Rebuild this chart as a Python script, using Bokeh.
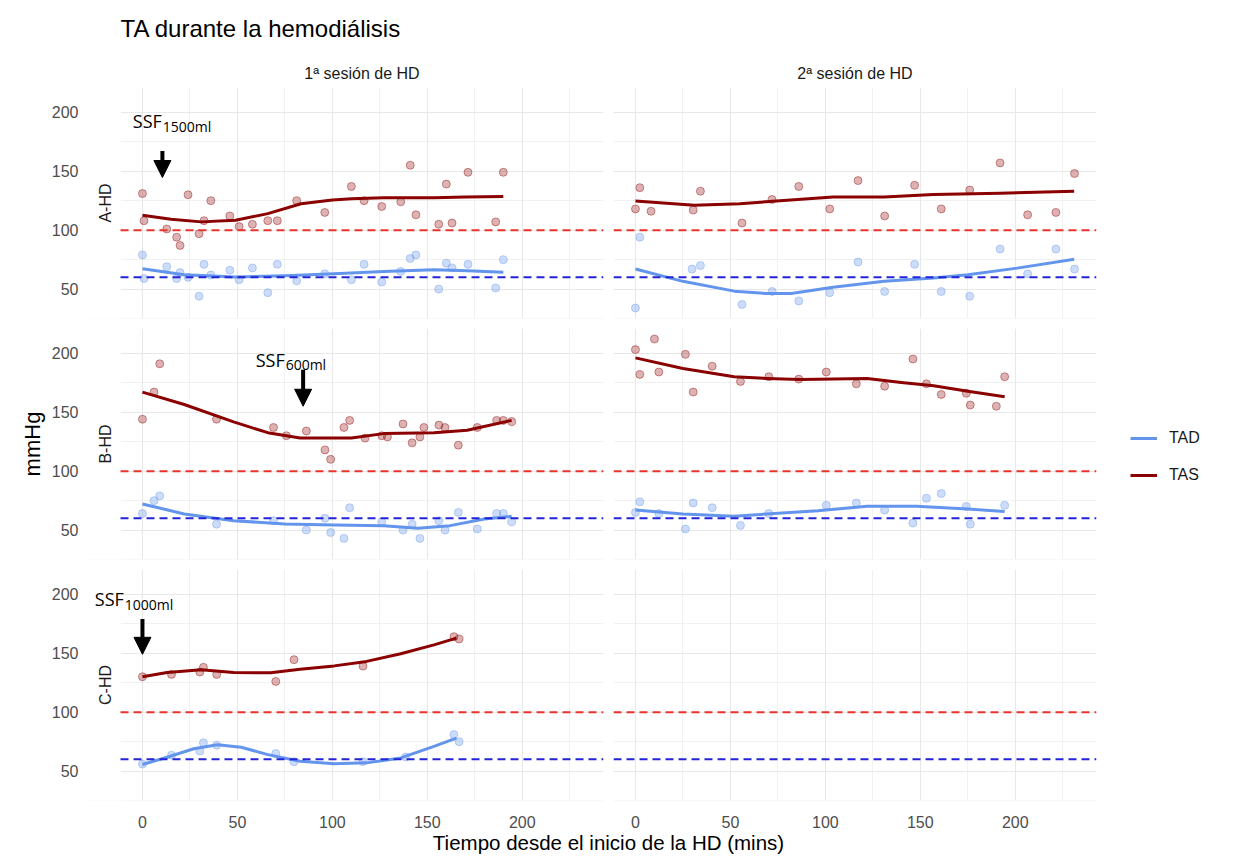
import math
from bokeh.plotting import figure
from bokeh.layouts import column, row
from bokeh.models import (Range1d, FixedTicker, Label, Arrow, NormalHead,
                          Legend, LegendItem, BoxAnnotation)
from bokeh.core.properties import value
from bokeh.embed import file_html
from bokeh.resources import INLINE

# ---------------- data ----------------
title_text = "TA durante la hemodiálisis"
col_labels = ["1ª sesión de HD", "2ª sesión de HD"]
row_labels = ["A-HD", "B-HD", "C-HD"]
x_title = "Tiempo desde el inicio de la HD (mins)"
y_title = "mmHg"
x_ticks = [0, 50, 100, 150, 200]
y_ticks = [50, 100, 150, 200]
ref_tas = 100
ref_tad = 60

# A-HD, session 1
a1_t_tas = [0, 0.8, 12.8, 18, 19.8, 24, 29.8, 32.4, 36, 46, 50.9, 57.9, 66, 71, 81.2, 96, 110,
            116.7, 126, 136, 141, 144, 156, 160, 163, 171.4, 186, 190]
a1_tas = [131, 108, 101, 94, 87, 130, 97, 108, 125, 112, 103, 105, 108, 108, 125, 115, 137,
          125, 120, 124, 155, 113, 105, 139, 106, 149, 107, 149]
a1_t_tad = a1_t_tas
a1_tad = [79, 59, 69, 59, 64, 60, 44, 71, 62, 66, 58, 68, 47, 71, 57, 63, 58,
          71, 56, 65, 76, 79, 50, 72, 68, 71, 51, 75]
a1_s_t_tas = [0, 15, 31, 49, 66, 83.5, 100, 110, 127, 153.5, 170, 190]
a1_s_tas = [112.6, 109.2, 107, 108.4, 114, 122.4, 125.5, 126.6, 127.4, 127.4, 128, 128.5]
a1_s_t_tad = [0, 22, 49, 75, 101, 127, 153.5, 171, 190]
a1_s_tad = [67.3, 62.2, 60.3, 61.4, 63, 65, 66.4, 65.6, 64.2]

# A-HD, session 2
a2_t_tas = [0, 2.3, 8.2, 30.4, 34.2, 56.1, 71.9, 86, 102.3, 117.2, 131.2, 147, 161, 176, 192,
            206.5, 221.4, 231.2]
a2_tas = [118, 136, 116, 117, 133, 106, 126, 137, 118, 142, 112, 138, 118, 134, 157, 113, 115, 148]
a2_t_tad = [0, 2.3, 29.8, 34.2, 56.1, 72, 86, 102.3, 117.2, 131.2, 147, 161, 176, 192, 206.5,
            221.4, 231.2]
a2_tad = [34, 94, 67, 70, 37, 48, 40, 47, 73, 48, 71, 48, 44, 84, 63, 84, 67]
a2_s_t_tas = [0, 31, 55, 78, 104, 131, 157, 192, 231]
a2_s_tas = [124.6, 121, 122.4, 125.2, 128, 128, 130.2, 131.3, 133]
a2_s_t_tad = [0, 25, 52, 69, 82, 104, 131, 157, 175, 201, 231]
a2_s_tad = [67, 56.6, 48.3, 46.3, 46.3, 51.6, 56.6, 59.4, 62.2, 67.8, 75.4]

# B-HD, session 1
b1_t_tas = [0, 6.1, 9.1, 39, 69, 75.8, 86.3, 96.1, 99.1, 106.1, 109.1, 117.2, 126, 129, 137.2,
            142, 146.1, 148.2, 156.1, 159.3, 166.3, 176.3, 186.5, 190, 194.4]
b1_tas = [144, 167, 191, 144, 137, 130, 134, 118, 110, 137, 143, 128, 130, 129, 140,
          124, 129, 137, 139, 137, 122, 137, 143, 143, 142]
b1_t_tad = [0, 6.1, 9.1, 39, 69, 86.3, 96.1, 99.1, 106.1, 109.1, 126, 137.2, 142, 146.1, 156.1,
            159.3, 166.3, 176.3, 186.5, 190, 194.4]
b1_tad = [64, 75, 79, 55, 58, 50, 60, 48, 43, 69, 57, 50, 55, 43, 58, 50, 65, 51, 64, 64, 57]
b1_s_t_tas = [0, 22, 48, 66, 83, 110, 127, 153.5, 171, 194.4]
b1_s_tas = [167, 156.5, 141.7, 132.6, 128.1, 128.1, 131.8, 132.6, 134.6, 143]
b1_s_t_tad = [0, 22, 48, 75, 101, 127, 145, 162, 180, 194.4]
b1_s_tad = [72.2, 63.7, 58, 55.2, 54.3, 53.8, 51.5, 53.8, 59.4, 61.7]

# B-HD, session 2
b2_t_tas = [0, 2.3, 10, 12.3, 26.3, 30.4, 40.4, 55.3, 70.2, 86, 100.5, 116.3, 131.2, 146.1,
            153.2, 161, 174.2, 176.3, 190, 194.4]
b2_tas = [203, 182, 212, 184, 199, 167, 189, 176, 180, 178, 184, 174, 172, 195,
          174, 165, 166, 156, 155, 180]
b2_t_tad = [0, 2.3, 12.3, 26.3, 30.4, 40.4, 55.3, 70.2, 100.5, 116.3, 131.2, 146.1, 153.2, 161,
            174.2, 176.3, 194.4]
b2_tad = [65, 74, 64, 51, 73, 69, 54, 64, 71, 73, 67, 56, 77, 81, 70, 55, 71]
b2_s_t_tas = [0, 25, 52, 69, 87, 122, 140, 157, 175, 194.4]
b2_s_tas = [196, 187, 180, 178.6, 177.7, 178.6, 175.2, 172.3, 167.8, 163]
b2_s_t_tad = [0, 25, 52, 69, 96, 122, 148, 175, 194.4]
b2_s_tad = [67, 63.7, 61.7, 63.7, 66.5, 70.2, 70.2, 67.9, 65.7]

# C-HD, session 1
c1_t_tas = [0, 15.3, 30.2, 32.1, 39.1, 70.2, 79.8, 116.1, 164, 166.7]
c1_tas = [130, 132, 134, 138, 132, 126, 144.5, 139, 164, 162]
c1_t_tad = [0, 15.3, 30.2, 32.1, 39.1, 70.2, 79.8, 116.1, 138.6, 164, 166.7]
c1_tad = [56, 63.5, 67, 74, 72, 65, 58, 58, 62, 81, 75]
c1_s_t_tas = [0, 13, 31, 48, 67.5, 83, 101, 118, 136, 153.5, 165.3]
c1_s_tas = [130, 133.6, 136, 133.6, 133.3, 136.4, 139.2, 143, 149.5, 157, 162.7]
c1_s_t_tad = [0, 13, 27, 39.5, 52, 66, 83, 101, 118, 136, 153.5, 165.3]
c1_s_tad = [55.6, 61.8, 69, 72.4, 70.2, 64, 58.4, 56.2, 57, 61.2, 71, 78]

# SSF annotations: (row, x of text, y of text baseline, subscript, arrow x, arrow top, arrow tip)
ssf_notes = [
    (0, -5.1, 192.4, "1500ml", 10.5, 167.0, 144.6),
    (1, 59.6, 194.3, "600ml", 84.6, 186.0, 155.0),
    (2, -25.1, 195.8, "1000ml", 0.0, 179.0, 149.0),
]

panels = {
    (0, 0): (a1_t_tas, a1_tas, a1_t_tad, a1_tad, a1_s_t_tas, a1_s_tas, a1_s_t_tad, a1_s_tad),
    (0, 1): (a2_t_tas, a2_tas, a2_t_tad, a2_tad, a2_s_t_tas, a2_s_tas, a2_s_t_tad, a2_s_tad),
    (1, 0): (b1_t_tas, b1_tas, b1_t_tad, b1_tad, b1_s_t_tas, b1_s_tas, b1_s_t_tad, b1_s_tad),
    (1, 1): (b2_t_tas, b2_tas, b2_t_tad, b2_tad, b2_s_t_tas, b2_s_tas, b2_s_t_tad, b2_s_tad),
    (2, 0): (c1_t_tas, c1_tas, c1_t_tad, c1_tad, c1_s_t_tas, c1_s_tas, c1_s_t_tad, c1_s_tad),
}

# ---------------- styling / layout ----------------
TAS_COLOR = "#8B0000"
TAD_COLOR = "#6495ED"
RED_DASH = "#e8342f"
BLUE_DASH = "#2323d8"
GRID = "#e8e8e8"
FONT = "Liberation Sans"

FRAME_W = 483          # visible panel width
FRAME_H = 231
LEFT_B = 120           # page x where the left panels start
STRIP_PX = 36          # strip area (row label / overflowing notes) left of each left panel
GAP = 5
BOTTOM_B = 32
LEG_W = 125
HEADER_H = 82
FOOTER_H = 24

all_t = a1_t_tas + a2_t_tas + b1_t_tas + b2_t_tas + c1_t_tas
all_v = a1_tas + a1_tad + a2_tas + a2_tad + b1_tas + b1_tad + b2_tas + b2_tad + c1_tas + c1_tad
tmin, tmax = min(all_t), max(all_t)
vmin, vmax = min(all_v), max(all_v)
X_START = tmin - 0.05 * (tmax - tmin)
X_END = tmax + 0.05 * (tmax - tmin)
Y_START = vmin - 0.05 * (vmax - vmin)
Y_END = vmax + 0.05 * (vmax - vmin)
STRIP_EXT = STRIP_PX * (X_END - X_START) / FRAME_W


def make_panel(r, c):
    left = c == 0
    bottom = r == 2
    border_l = (LEFT_B - STRIP_PX) if left else GAP
    width = border_l + (STRIP_PX if left else 0) + FRAME_W + GAP
    height = GAP + FRAME_H + (BOTTOM_B if bottom else GAP)
    x0 = X_START - STRIP_EXT if left else X_START
    p = figure(width=width, height=height,
               x_range=Range1d(x0, X_END), y_range=Range1d(Y_START, Y_END),
               x_axis_location="below" if bottom else None,
               y_axis_location="left" if left else None,
               output_backend="svg", toolbar_location=None,
               min_border_left=border_l, min_border_right=GAP,
               min_border_top=GAP, min_border_bottom=BOTTOM_B if bottom else GAP)
    p.outline_line_color = None
    p.background_fill_color = "white"
    p.border_fill_color = "white"

    p.xgrid.ticker = FixedTicker(ticks=x_ticks, minor_ticks=[-25, 25, 75, 125, 175, 225])
    p.ygrid.ticker = FixedTicker(ticks=y_ticks, minor_ticks=[25, 75, 125, 175, 225])
    for g in (p.xgrid, p.ygrid):
        g.grid_line_color = GRID
        g.grid_line_width = 1.1
        g.minor_grid_line_color = GRID
        g.minor_grid_line_width = 0.6

    if left:
        ax = p.yaxis[0]
        ax.ticker = FixedTicker(ticks=y_ticks)
        ax.major_label_standoff = 6
        ax.major_tick_in = 0
        ax.major_tick_out = 0
        ax.minor_tick_in = 0
        ax.minor_tick_out = 0
        ax.axis_line_color = None
        ax.major_label_text_font = FONT
        ax.major_label_text_font_size = "16px"
        ax.major_label_text_color = "#4d4d4d"
        if r == 1:
            ax.axis_label = y_title
            ax.axis_label_standoff = 4
            ax.axis_label_text_font = FONT
            ax.axis_label_text_font_size = "22px"
            ax.axis_label_text_font_style = "normal"
            ax.axis_label_text_color = "black"
    if bottom:
        ax = p.xaxis[0]
        ax.ticker = FixedTicker(ticks=x_ticks)
        ax.major_label_standoff = 15
        ax.major_tick_in = 0
        ax.major_tick_out = 0
        ax.minor_tick_in = 0
        ax.minor_tick_out = 0
        ax.axis_line_color = None
        ax.major_label_text_font = FONT
        ax.major_label_text_font_size = "16px"
        ax.major_label_text_color = "#4d4d4d"

    if left:
        # blank strip left of the panel: hides the grid there
        p.add_layout(BoxAnnotation(left=x0 - STRIP_EXT, right=X_START,
                                   bottom=Y_START - 50, top=Y_END + 50,
                                   fill_color="white", fill_alpha=1.0,
                                   line_color="white", line_alpha=1.0, line_width=1,
                                   level="underlay"))

    if (r, c) in panels:
        t_tas, tas, t_tad, tad, st_tas, s_tas, st_tad, s_tad = panels[(r, c)]
        p.scatter(t_tad, tad, size=8, fill_color=TAD_COLOR, fill_alpha=0.32,
                  line_color=TAD_COLOR, line_alpha=0.4)
        p.scatter(t_tas, tas, size=8, fill_color=TAS_COLOR, fill_alpha=0.3,
                  line_color=TAS_COLOR, line_alpha=0.4)
        p.line(st_tad, s_tad, line_color=TAD_COLOR, line_width=3, line_join="round")
        p.line(st_tas, s_tas, line_color=TAS_COLOR, line_width=3, line_join="round")

    # reference levels across the panel width
    p.line([X_START, X_END], [ref_tas, ref_tas], line_color=RED_DASH,
           line_dash="8 5", line_width=2)
    p.line([X_START, X_END], [ref_tad, ref_tad], line_color=BLUE_DASH,
           line_dash="8 5", line_width=2)

    if left:
        p.add_layout(Label(x=X_START, y=(Y_START + Y_END) / 2, x_offset=-15,
                           text=row_labels[r], angle=math.pi / 2,
                           text_align="center", text_baseline="middle",
                           text_font=FONT, text_font_size="16px",
                           text_color="#1a1a1a"))
        for (rr, tx, ty, sub, axx, ay0, ay1) in ssf_notes:
            if rr != r:
                continue
            p.add_layout(Label(x=tx, y=ty, text="SSF", text_font="Open Sans",
                               text_font_size="18px", text_color="black",
                               text_baseline="alphabetic", text_align="left"))
            p.add_layout(Label(x=tx, y=ty, x_offset=30, y_offset=-5, text=sub,
                               text_font="Open Sans", text_font_size="14px",
                               text_color="black", text_baseline="alphabetic",
                               text_align="left"))
            p.add_layout(Arrow(end=NormalHead(size=17, fill_color="black", line_color="black"),
                               x_start=axx, y_start=ay0, x_end=axx, y_end=ay1,
                               line_width=4, line_color="black"))
    return p


def blank(width, height, yflip=True):
    f = figure(width=width, height=height, x_range=Range1d(0, width),
               y_range=Range1d(height, 0) if yflip else Range1d(0, height),
               x_axis_location=None, y_axis_location=None,
               output_backend="svg", toolbar_location=None, min_border=0)
    f.grid.visible = False
    f.outline_line_color = None
    f.background_fill_color = "white"
    f.border_fill_color = "white"
    return f


TOTAL_W = LEFT_B + FRAME_W + GAP + GAP + FRAME_W + GAP + LEG_W

# header with title and column strips
hdr = blank(TOTAL_W, HEADER_H)
hdr.text(x=[LEFT_B], y=[28], text=[title_text], text_font=value(FONT),
         text_font_size=value("24px"), text_baseline="middle", text_align="left",
         text_color="black")
c0 = LEFT_B + FRAME_W / 2
c1 = LEFT_B + FRAME_W + 2 * GAP + FRAME_W / 2
hdr.text(x=[c0, c1], y=[73, 73], text=col_labels, text_font=value(FONT),
         text_font_size=value("16px"), text_baseline="middle", text_align="center",
         text_color="#1a1a1a")

# footer with x title
ftr = blank(TOTAL_W, FOOTER_H)
ftr.text(x=[LEFT_B + FRAME_W + GAP], y=[10], text=[x_title], text_font=value(FONT),
         text_font_size=value("20.5px"), text_baseline="middle", text_align="center",
         text_color="black")

# legend panel (keys only; its lines lie outside the visible range)
lg = blank(LEG_W, GAP + FRAME_H + GAP, yflip=False)
r_tad = lg.line(x=[-20, -10], y=[-20, -20], line_color=TAD_COLOR, line_width=3)
r_tas = lg.line(x=[-20, -10], y=[-20, -20], line_color=TAS_COLOR, line_width=3)
legend = Legend(items=[LegendItem(label="TAD", renderers=[r_tad]),
                       LegendItem(label="TAS", renderers=[r_tas])],
                location=(29, 74), orientation="vertical", glyph_width=27, glyph_height=20,
                label_height=20, spacing=17, padding=0, margin=0, label_standoff=12,
                border_line_color=None, background_fill_alpha=0,
                label_text_font=FONT, label_text_font_size="16px", label_text_color="#1a1a1a")
lg.add_layout(legend)

rows = []
for r in range(3):
    figs = [make_panel(r, 0), make_panel(r, 1)]
    if r == 1:
        figs.append(lg)
    rows.append(row(*figs, spacing=0))

layout = column(hdr, *rows, ftr, spacing=0)
open("out.html", "w").write(file_html(layout, INLINE, "TA durante la hemodiálisis"))
